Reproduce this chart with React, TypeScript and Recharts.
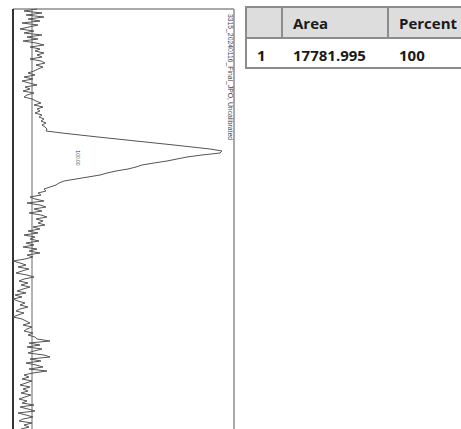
import { LineChart, Line, XAxis, YAxis, ReferenceLine } from "recharts"

// detector trace, one reading every 0.1 min (baseline = 0)
const sampleStep = 0.1
const intensity = [
  5, -8, 10, -6, 12, -4, 8, -10, 6, -3,
  -12, 2, -8, 10, -5, 6, -9, 4, 12, -2,
  8, 3, 12, 5, 10, -2, 9, 13, 4, 11, 6, 2,
  -4, 3, -8, 1, -10, -3, 5, -7, -2, -9, 2, -5, -8, 0,
  4, 9, 2, 11, 5, 8, 3, 10,
  7, 12, 9, 14, 10, 13, 15,
  14, 30, 48, 66, 85, 104, 123, 142, 160, 178, 190,
  188, 170, 155, 145, 135, 122, 110, 104, 96, 84, 75, 68, 56, 44, 32, 27,
  24, 18, 12, 14, 6, 9, -2,
  3, 12, -5, 8, 14, 2, 10, -3, 9, 15, 4, 11, 6, 13, 1, 8,
  -4, 6, -8, 3, -2, 7, -6, 2, -9, 5, -3, 8, -5, 1, -7,
  -19, -12, -6, -14, -3, -10, -16, -5, 2, -8, -13, -4, -11, -2, -9, -15, -6, -17, -10, -19, -14, -7, -12, -4,
  -12, -16, -8, -14, -19, -10,
  -6, -2, -9, 0, -5, -8, 1, -4, 3,
  5, 18, -3, 8, -5, 10, 2, -4, 12, 18, -2, 9, -6, 4, 11, -3, 15, 1,
  -8, -3, -10, 0, -6, -12, -2, -9, -4, -11, -1, -7, -13, -5,
  -10, 2, -12, -4, 3, -14, -6, 1, -9, -13, 0, -8, -3, -11,
]

const traceTitle = "3315_20240116_Final_JPO, Uncalibrated"
const peakLabel = "100.00"

const tableHeaders = ["", "Area", "Percent"]
const tableRows = [["1", "17781.995", "100"]]

const data = intensity.map((v, i) => ({ t: +(i * sampleStep).toFixed(2), v }))

const border = "2px solid #8c8c8c"
const colWidths = [36, 106, 120]

function Rotated({ text, x, y, size }: { text: string; x: number; y: number; size: number }) {
  return (
    <div
      style={{
        position: "absolute",
        left: x,
        top: y,
        transform: "translate(-50%, -50%) rotate(90deg)",
        whiteSpace: "nowrap",
        fontFamily: "'Liberation Sans', Arial, sans-serif",
        fontSize: size,
        color: "#444",
        lineHeight: 1,
      }}
    >
      {text}
    </div>
  )
}

function Row({ cells, header }: { cells: string[]; header?: boolean }) {
  return (
    <div
      style={{
        display: "flex",
        height: header ? 29 : 28,
        background: header ? "#dddddd" : "#ffffff",
        borderBottom: border,
      }}
    >
      {cells.map((c, i) => (
        <div
          key={i}
          style={{
            width: colWidths[i],
            flex: "none",
            paddingLeft: 10,
            boxSizing: "border-box",
            display: "flex",
            alignItems: "center",
            paddingTop: header ? 0 : 3,
            borderRight: header && i < cells.length - 1 ? border : "2px solid transparent",
          }}
        >
          {c}
        </div>
      ))}
    </div>
  )
}

export default function App() {
  return (
    <div style={{ position: "relative", width: 461, height: 429, overflow: "hidden", background: "#fff" }}>
      <style>{"body{margin:0}"}</style>
      <div style={{ position: "absolute", left: 0, top: 0 }}>
        <LineChart
          width={240}
          height={450}
          layout="vertical"
          data={data}
          margin={{ top: 9, right: 6, left: 13, bottom: 1 }}
        >
          <XAxis type="number" dataKey="v" domain={[-19, 202]} hide />
          <YAxis type="number" dataKey="t" domain={[0, 22]} hide />
          <ReferenceLine y={0} stroke="#8c8c8c" strokeWidth={1.5} />
          <ReferenceLine x={202} stroke="#8c8c8c" strokeWidth={1.5} />
          <ReferenceLine x={-19} stroke="#333" strokeWidth={2} />
          <ReferenceLine x={0} stroke="#666" strokeWidth={1} />
          <Line
            dataKey="v"
            type="linear"
            stroke="#555"
            strokeWidth={1}
            dot={false}
            isAnimationActive={false}
          />
        </LineChart>
      </div>
      <Rotated text={traceTitle} x={230} y={77} size={6.8} />
      <Rotated text={peakLabel} x={77} y={158} size={5} />
      <div
        style={{
          position: "absolute",
          left: 245,
          top: 6,
          width: 260,
          borderTop: border,
          borderLeft: border,
          fontFamily: "'Open Sans', sans-serif",
          fontWeight: 700,
          fontSize: 15,
          color: "#1a1a1a",
        }}
      >
        <Row cells={tableHeaders} header />
        {tableRows.map((r, i) => (
          <Row key={i} cells={r} />
        ))}
      </div>
    </div>
  )
}
